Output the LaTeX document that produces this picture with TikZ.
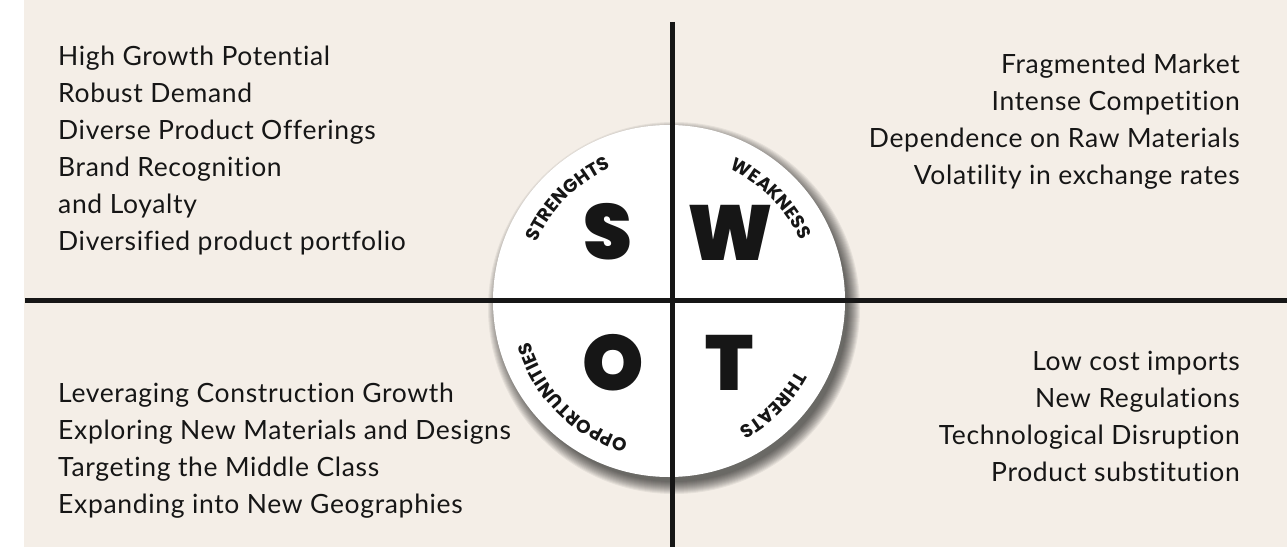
\documentclass[tikz,border=0pt]{standalone}
\usepackage{fontspec}
\setmainfont{Lato}[LetterSpace=2.5, Ligatures=NoCommon]
\usetikzlibrary{decorations.text}
\IfFontExistsTF{Poppins Black}
    {\newfontfamily\swotletter{Poppins Black}}
    {\newfontfamily\swotletter{Poppins}[UprightFont=*-Bold]}
\IfFontExistsTF{Poppins Bold}
    {\newfontfamily\swotarc{Poppins Bold}[LetterSpace=17]}
    {\newfontfamily\swotarc{Poppins}[LetterSpace=17]}
\definecolor{marble}{HTML}{F4EEE7}
\definecolor{ink}{HTML}{161616}
\tikzset{
    quad text/.style={
        inner sep=0pt,
        text=ink,
        font=\fontsize{26.5}{37}\selectfont
    },
    big letter/.style={
        inner sep=0pt,
        text=ink,
        font=\swotletter\fontsize{78}{78}\selectfont
    },
    arc label/.style={
        decorate,
        decoration={text along path, text align=center, text color=ink,
        text={|\swotarc\fontsize{18.5}{18.5}\selectfont|#1}}
    },
    divider/.style={
        line width=5pt,
        ink
    }
}

\begin{document}
\begin{tikzpicture}[x=1pt,y=1pt]
    \useasboundingbox (0,0) rectangle (1287,547);
    \fill[marble] (24,0) rectangle (1287,547);
    \coordinate (c) at (669,246);
    % soft shadow under the disc
    \foreach \k in {0,...,12}
        \fill[black, opacity=0.06] ([shift={(5,-7)}]c) circle ({174+\k});
    \node[circle, fill=white, minimum size=352pt, inner sep=0pt] (disc) at (c) {};
    \path[arc label=STRENGHTS] (c) ++(195:145) arc[start angle=195, end angle=75, radius=145];
    \path[arc label=WEAKNESS] (c) ++(105:145) arc[start angle=105, end angle=-15, radius=145];
    \path[arc label=OPPORTUNITIES] (c) ++(285:145) arc[start angle=285, end angle=165, radius=145];
    \path[arc label=THREATS] (c) ++(15:145) arc[start angle=15, end angle=-105, radius=145];
    % cross
    \coordinate (top) at (672,525);
    \coordinate (bottom) at (672,0);
    \coordinate (left) at (25,247);
    \coordinate (right) at (1287,247);
    \draw[divider] (top) -- (bottom);
    \draw[divider] (left) -- (right);
    % the four letters
    \node[big letter] (S) at (608,315) {S};
    \node[big letter] (W) at (730,314) {W};
    \node[big letter] (O) at (613,184) {O};
    \node[big letter] (T) at (730,184) {T};
    % quadrant lists
    \node[quad text, anchor=north west, align=left] (strengths) at (58,501)
        {High Growth Potential\\Robust Demand\\Diverse Product Offerings\\Brand Recognition\\and Loyalty\\Diversified product portfolio};
    \node[quad text, anchor=north east, align=right] (weaknesses) at (1240,493)
        {Fragmented Market\\Intense Competition\\Dependence on Raw Materials\\Volatility in exchange rates};
    \node[quad text, anchor=north west, align=left] (opportunities) at (58,164)
        {Leveraging Construction Growth\\Exploring New Materials and Designs\\Targeting the Middle Class\\Expanding into New Geographies};
    \node[quad text, anchor=north east, align=right] (threats) at (1240,196)
        {Low cost imports\\New Regulations\\Technological Disruption\\Product substitution};
\end{tikzpicture}
\end{document}
